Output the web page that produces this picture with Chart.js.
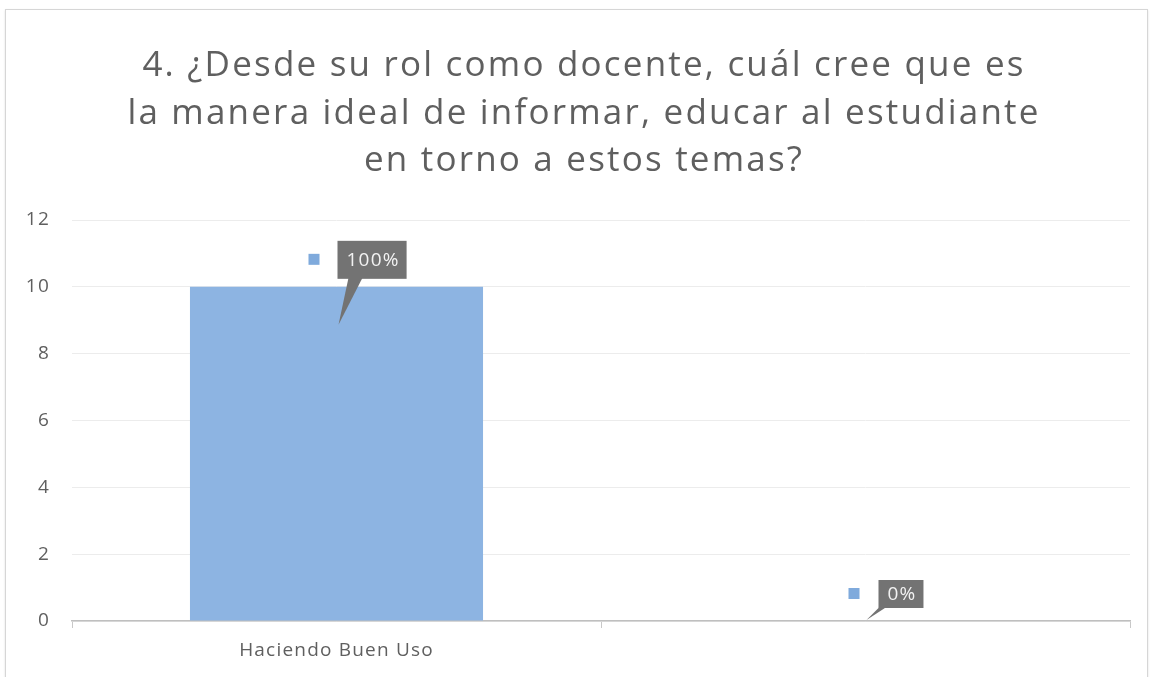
<!DOCTYPE html>
<html>
<head>
<meta charset="utf-8">
<script src="https://cdn.jsdelivr.net/npm/chart.js@4.4.1/dist/chart.umd.min.js"></script>
<style>
  html, body { margin: 0; padding: 0; background: #fff; }
  #wrap { position: relative; width: 1151px; height: 677px; overflow: hidden; }
  #frame {
    position: absolute; left: 5px; top: 9px; width: 1143px; height: 690px;
    border: 1px solid #d6d6d6; box-shadow: 0 1px 2px rgba(0,0,0,0.12);
    box-sizing: border-box; pointer-events: none;
  }
  canvas { position: absolute; left: 0; top: 0; }
</style>
</head>
<body>
<div id="wrap">
  <canvas id="chart" width="1151" height="677"></canvas>
  <div id="frame"></div>
</div>
<script>
// ── Data ──────────────────────────────────────────
const TITLE_LINES = [
  '4. ¿Desde su rol como docente, cuál cree que es',
  'la manera ideal de informar, educar al estudiante',
  'en torno a estos temas?'
];
const CATEGORIES = ['Haciendo Buen Uso', ''];
const VALUES = [10, 0];
const PERCENT_LABELS = ['100%', '0%'];
const Y_TICKS = [0, 2, 4, 6, 8, 10, 12];

const BAR_COLOR = '#8DB4E2';
const TEXT_COLOR = '#5f5f5f';
const FONT = "'Open Sans', 'Noto Sans', sans-serif";
const SMALL_SPACING = '1.2px';

// ── Slight letter spacing for all chart text ─────
const spacingPlugin = {
  id: 'spacing',
  beforeUpdate(chart) { chart.ctx.letterSpacing = SMALL_SPACING; },
  beforeDraw(chart) { chart.ctx.letterSpacing = SMALL_SPACING; }
};

// ── Title (drawn in the reserved top padding) ────
const titlePlugin = {
  id: 'bigTitle',
  afterDraw(chart, args, opts) {
    const ctx = chart.ctx;
    ctx.save();
    ctx.letterSpacing = opts.spacing;
    ctx.font = opts.size + 'px ' + FONT;
    ctx.fillStyle = TEXT_COLOR;
    ctx.textAlign = 'center';
    ctx.textBaseline = 'alphabetic';
    TITLE_LINES.forEach((line, i) => {
      ctx.fillText(line, opts.centerX, opts.firstBaseline + i * opts.lineStep);
    });
    ctx.restore();
  }
};

// ── Callout labels (Excel-style) ─────────────────
const calloutPlugin = {
  id: 'callouts',
  afterDatasetsDraw(chart, args, opts) {
    const ctx = chart.ctx;
    const meta = chart.getDatasetMeta(0);
    meta.data.forEach((bar, i) => {
      const c = opts.items[i];
      const text = PERCENT_LABELS[i];
      ctx.save();
      ctx.letterSpacing = SMALL_SPACING;
      ctx.font = '19px ' + FONT;
      const tw = ctx.measureText(text).width;
      const w = tw + c.padX * 2;
      const h = c.h;
      const left = bar.x + c.dx;
      const bottom = bar.y + c.dy;
      const top = bottom - h;

      ctx.fillStyle = '#737373';
      ctx.beginPath();
      ctx.moveTo(left + c.baseA, bottom - 1);
      ctx.lineTo(left + c.baseB, bottom - 1);
      ctx.lineTo(bar.x + c.tipDx, bar.y + c.tipDy);
      ctx.closePath();
      ctx.fill();
      ctx.fillRect(left, top, w, h);

      ctx.fillStyle = '#f2f2f2';
      ctx.textAlign = 'center';
      ctx.textBaseline = 'middle';
      ctx.fillText(text, left + w / 2 + 1, top + h / 2 + 1);

      ctx.fillStyle = '#7FAADC';
      ctx.fillRect(left + c.keyDx, top + h / 2 - 6, 11, 11);
      ctx.restore();
    });
  }
};

new Chart(document.getElementById('chart'), {
  type: 'bar',
  data: {
    labels: CATEGORIES,
    datasets: [{
      data: VALUES,
      backgroundColor: BAR_COLOR,
      borderWidth: 0,
      categoryPercentage: 0.554,
      barPercentage: 1.0
    }]
  },
  options: {
    responsive: false,
    animation: false,
    devicePixelRatio: 1,
    layout: { padding: { left: 0, right: 21, top: 220, bottom: 0 } },
    plugins: {
      legend: { display: false },
      tooltip: { enabled: false },
      title: { display: false },
      bigTitle: { size: 35, spacing: '2.2px', centerX: 584, firstBaseline: 76, lineStep: 47.5 },
      callouts: {
        items: [
          { dx: 1, dy: -8, h: 38, padX: 8, baseA: 11, baseB: 25, tipDx: 2, tipDy: 38, keyDx: -29 },
          { dx: 13, dy: -13, h: 28, padX: 8, baseA: 1, baseB: 8, tipDx: 1, tipDy: -1, keyDx: -30 }
        ]
      }
    },
    scales: {
      x: {
        afterFit(scale) { scale.height = 56; },
        grid: {
          offset: true,
          drawOnChartArea: false,
          drawTicks: true,
          tickLength: 7,
          color: '#c8c8c8'
        },
        border: { display: true, color: '#bfbfbf', width: 1.5 },
        ticks: {
          color: TEXT_COLOR,
          font: { family: FONT, size: 19 },
          padding: 11
        }
      },
      y: {
        min: 0,
        max: 12,
        afterFit(scale) { scale.width = 72; },
        afterBuildTicks(scale) { scale.ticks = Y_TICKS.map(v => ({ value: v })); },
        grid: { color: '#ececec', drawTicks: false, lineWidth: 1 },
        border: { display: false },
        ticks: {
          color: TEXT_COLOR,
          font: { family: FONT, size: 19 },
          padding: 22
        }
      }
    }
  },
  plugins: [spacingPlugin, titlePlugin, calloutPlugin]
});
</script>
</body>
</html>
